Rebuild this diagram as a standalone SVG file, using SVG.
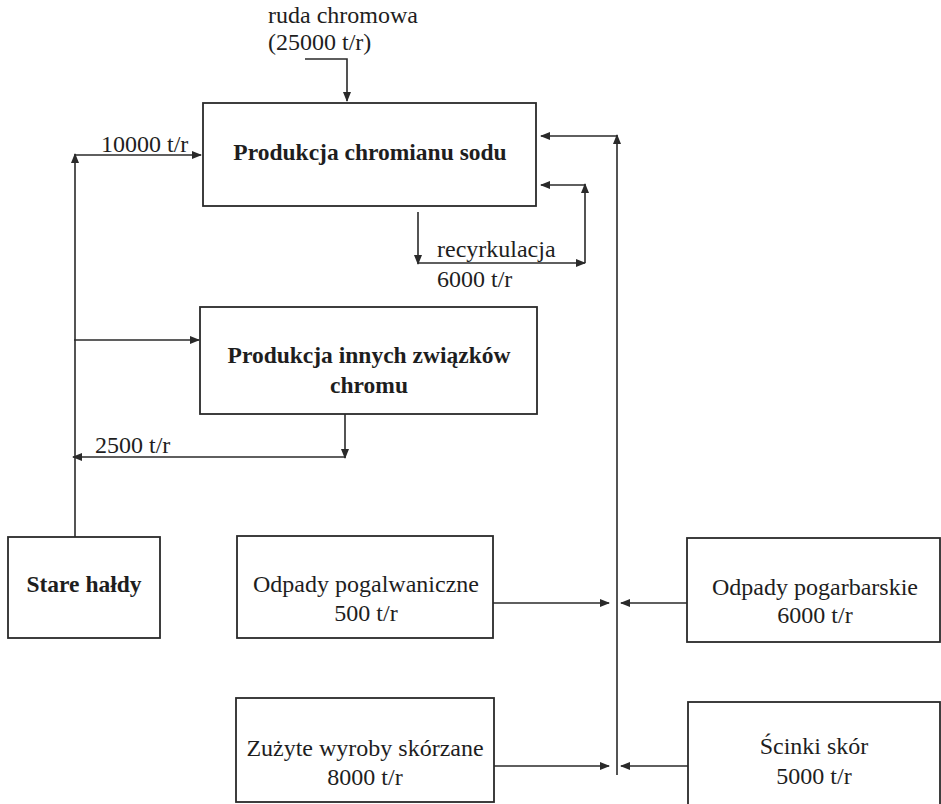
<svg xmlns="http://www.w3.org/2000/svg" width="941" height="804" viewBox="0 0 941 804">
<style>
.box{fill:none;stroke:#2a2a2a;stroke-width:1.8}
.ln{fill:none;stroke:#2a2a2a;stroke-width:1.6}
.ar{marker-end:url(#ah)}
text{font-family:"Liberation Serif","Times New Roman",serif;font-size:24px;fill:#1e1e1e}
.b{font-weight:bold;font-size:23.5px}
.m{text-anchor:middle}
</style>
<defs>
<marker id="ah" markerUnits="userSpaceOnUse" markerWidth="10" markerHeight="8" refX="9" refY="4" orient="auto">
<path d="M0,0 L10,4 L0,8 Z" fill="#2a2a2a"/>
</marker>
</defs>
<rect width="941" height="804" fill="#ffffff"/>
<g id="feed-label">
<text x="268" y="23">ruda chromowa</text>
<text x="268" y="50">(25000 t/r)</text>
</g>
<g id="n1">
<rect class="box" x="203" y="103" width="333" height="103"/>
<text class="b m" x="370" y="160">Produkcja chromianu sodu</text>
</g>
<g id="n2">
<rect class="box" x="200" y="307" width="337" height="107"/>
<text class="b m" x="369" y="363">Produkcja innych związków</text>
<text class="b m" x="369" y="393">chromu</text>
</g>
<g id="n3">
<rect class="box" x="8" y="537" width="152" height="101"/>
<text class="b m" x="84" y="592">Stare hałdy</text>
</g>
<g id="n4">
<rect class="box" x="237" y="536" width="256" height="102"/>
<text class="m" x="366" y="592">Odpady pogalwaniczne</text>
<text class="m" x="366" y="621">500 t/r</text>
</g>
<g id="n5">
<rect class="box" x="687" y="538" width="253" height="104"/>
<text class="m" x="815" y="595">Odpady pogarbarskie</text>
<text class="m" x="815" y="623">6000 t/r</text>
</g>
<g id="n6">
<rect class="box" x="236" y="698" width="258" height="104"/>
<text class="m" x="365" y="756">Zużyte wyroby skórzane</text>
<text class="m" x="365" y="785">8000 t/r</text>
</g>
<g id="n7">
<rect class="box" x="688" y="702" width="252" height="104"/>
<text class="m" x="814" y="754">Ścinki skór</text>
<text class="m" x="814" y="784">5000 t/r</text>
</g>
<g id="connectors">
<path class="ln ar" d="M305,59 H347 V101"/>
<path class="ln ar" d="M75,537 V154"/>
<path class="ln ar" d="M75,155 H201"/>
<path class="ln ar" d="M74,340 H199"/>
<path class="ln ar" d="M345,414 V458"/>
<path class="ln ar" d="M345,457 H73"/>
<path class="ln ar" d="M418,212 V264"/>
<path class="ln ar" d="M418,263 H585"/>
<path class="ln ar" d="M585,263 V184"/>
<path class="ln ar" d="M585,185 H541"/>
<path class="ln" d="M617,775 V139"/>
<path class="ln ar" d="M617,140 V135"/>
<path class="ln ar" d="M617,136 H541"/>
<path class="ln ar" d="M493,603 H609"/>
<path class="ln ar" d="M687,603 H621"/>
<path class="ln ar" d="M494,766 H609"/>
<path class="ln ar" d="M688,766 H621"/>
</g>
<g id="edge-labels">
<text x="101" y="152">10000 t/r</text>
<text x="437" y="257">recyrkulacja</text>
<text x="437" y="287">6000 t/r</text>
<text x="95" y="453">2500 t/r</text>
</g>
</svg>
